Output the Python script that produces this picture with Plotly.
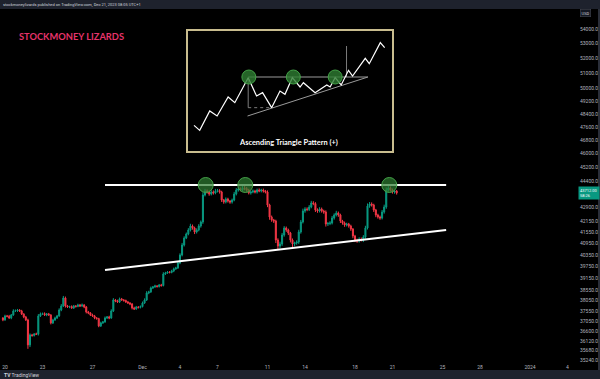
import math
import pandas as pd
import plotly.graph_objects as go

# ---------------- data ----------------
candle_start = "2023-11-19 20:00"
candle_step = "4h"
first_open = 37211
close = [
    37116, 37307, 37290, 37211, 37355, 37548, 37560, 37596, 37548, 37403,
    37259, 37116, 35941, 36406, 36380, 36453, 36440, 37307, 37403, 37420,
    37355, 37403, 37355, 36973, 37116, 37211, 37307, 37596, 37791, 38182,
    37791, 37742, 37760, 37693, 37791, 37770, 37840, 37791, 37840, 37742,
    37500, 37452, 37355, 37307, 37211, 37180, 36830, 36973, 37020, 37211,
    37259, 37211, 37548, 38084, 38035, 37986, 38133, 38084, 38060, 37986,
    37937, 37888, 37693, 37645, 37742, 37720, 37760, 37937, 38084, 38428,
    38478, 38677, 38727, 38777, 38750, 38827, 38800, 39381, 39431, 39482,
    39460, 39533, 39635, 39686, 39942, 40356, 40880, 41251, 41463, 41678,
    41893, 41785, 41570, 41678, 41893, 42110, 43600, 43825, 43769, 43656,
    43769, 43712, 43825, 43850, 43769, 43320, 43209, 43376, 43264, 43209,
    43320, 43656, 43882, 43938, 43882, 43995, 43960, 43882, 43712, 43769,
    43825, 43769, 43882, 43825, 43882, 43825, 43769, 43042, 42381, 42219,
    42164, 41144, 40827, 40933, 41410, 41785, 41678, 41516, 41144, 40933,
    40985, 41038, 41570, 42110, 42711, 42821, 42790, 42931, 43153, 43120,
    42766, 42711, 42821, 42711, 42656, 42001, 42030, 42055, 42327, 42491,
    42601, 42491, 42164, 42055, 41947, 42001, 41893, 41731, 41357, 41144,
    41091, 41197, 41144, 41304, 41785, 42987, 43097, 43042, 42766, 42491,
    42381, 42327, 42656, 42931, 43882, 43995, 43882, 43769, 43825, 43712,
]
wick_up = [
    40, 60, 50, 70, 45, 80, 60, 50, 40, 55,
    35, 50, 60, 70, 50, 40, 60, 90, 70, 50,
    60, 45, 50, 40, 55, 60, 50, 80, 90, 100,
    70, 50, 45, 60, 50, 40, 60, 50, 70, 40,
    45, 50, 40, 60, 50, 45, 40, 60, 50, 70,
    45, 60, 80, 90, 50, 60, 70, 50, 45, 40,
    50, 40, 45, 60, 50, 40, 55, 70, 80, 90,
    60, 70, 50, 60, 45, 50, 55, 90, 60, 50,
    45, 60, 70, 60, 80, 90, 110, 90, 80, 100,
    120, 80, 70, 90, 100, 80, 150, 120, 90, 80,
    100, 90, 120, 90, 80, 70, 60, 90, 70, 60,
    80, 120, 110, 100, 90, 120, 115, 90, 70, 80,
    90, 70, 80, 90, 70, 80, 60, 90, 70, 80,
    60, 70, 90, 120, 110, 100, 80, 70, 60, 80,
    70, 90, 120, 110, 130, 100, 90, 110, 120, 100,
    80, 90, 100, 80, 70, 90, 80, 100, 110, 90,
    120, 80, 70, 60, 80, 70, 60, 70, 50, 60,
    70, 90, 80, 100, 120, 140, 110, 90, 70, 60,
    70, 80, 110, 130, 140, 115, 90, 80, 70, 60,
]
wick_down = [
    60, 40, 50, 45, 60, 40, 50, 60, 45, 50,
    60, 50, 180, 100, 60, 50, 40, 60, 50, 45,
    50, 60, 40, 70, 50, 45, 50, 40, 60, 50,
    80, 50, 60, 45, 50, 60, 40, 50, 45, 60,
    70, 60, 50, 45, 60, 50, 60, 50, 45, 40,
    50, 60, 40, 50, 60, 45, 50, 40, 60, 50,
    45, 60, 70, 50, 40, 55, 50, 40, 45, 50,
    60, 45, 50, 40, 55, 50, 60, 45, 50, 40,
    50, 45, 60, 40, 50, 60, 70, 80, 60, 70,
    80, 90, 110, 80, 70, 90, 100, 80, 90, 100,
    80, 90, 70, 80, 90, 110, 100, 80, 90, 100,
    90, 70, 80, 90, 70, 80, 90, 100, 80, 90,
    70, 80, 90, 70, 80, 90, 80, 120, 150, 100,
    110, 160, 210, 120, 100, 90, 100, 110, 130, 160,
    120, 90, 100, 90, 80, 100, 90, 80, 70, 90,
    110, 100, 80, 90, 100, 140, 110, 90, 80, 90,
    80, 100, 110, 90, 100, 80, 90, 100, 120, 110,
    100, 90, 80, 110, 90, 80, 100, 90, 110, 120,
    90, 100, 80, 90, 100, 90, 80, 90, 100, 90,
]

date_ticks = ["2023-11-20", "2023-11-23", "2023-11-27", "2023-12-01", "2023-12-04",
              "2023-12-07", "2023-12-11", "2023-12-14", "2023-12-18", "2023-12-21",
              "2023-12-25", "2023-12-28", "2024-01-01", "2024-01-04"]
date_labels = ["20", "23", "27", "Dec", "4", "7", "11", "14", "18", "21",
               "25", "28", "2024", "4"]
price_ticks = [54000, 53000, 52000, 51000, 50000, 49200, 48400, 47600, 46800,
               46000, 45200, 44400, 42900, 42150, 41550, 40950, 40350, 39750,
               39150, 38550, 38050, 37550, 37050, 36600, 36120, 35680, 35240]
price_labels = [f"{v:.2f}" for v in price_ticks]

line_x = ["2023-11-28 00:00", "2023-12-25 07:00"]
resistance_y = [44166, 44166]
support_y = [39584, 41678]
touch_x = ["2023-12-06 01:20", "2023-12-09 05:20", "2023-12-20 17:50"]
touch_y = [44166, 44166, 44166]

# inset schematic (ascending triangle)
pattern_x = [28, 45, 75, 97, 130, 150, 190, 215, 233, 260, 285, 300, 322, 345,
             355, 390, 425, 435, 450, 468, 490, 502, 540, 552, 585, 598]
pattern_y = [293, 308, 250, 265, 208, 225, 150, 205, 195, 240, 190, 200, 150, 178,
             165, 195, 172, 178, 150, 172, 128, 145, 92, 108, 45, 60]
top_x, top_y = [190, 548], [148, 148]
base_x, base_y = [188, 548], [265, 148]
height_x, height_y = [190, 190], [150, 240]
dot_x, dot_y = [190, 258], [240, 240]
target_x, target_y = [484, 484], [55, 148]
peak_x, peak_y = [192, 325, 450], [148, 148, 148]

# ---------------- figure ----------------
W, H = 600, 379
L, R, T, B = 0, 23, 9, 17
PW, PH = W - L - R, H - T - B

def py(p):  # pixel row -> paper y
    return 1 - (p - T) / PH

def px(p):  # pixel column -> paper x
    return (p - L) / PW

times = pd.date_range(candle_start, periods=len(close), freq=candle_step)
opens = [first_open] + close[:-1]
highs = [max(o, c) + w for o, c, w in zip(opens, close, wick_up)]
lows = [min(o, c) - w for o, c, w in zip(opens, close, wick_down)]

UP, DN = "#089981", "#f23645"
fig = go.Figure()
fig.add_trace(go.Candlestick(
    x=times, open=opens, high=highs, low=lows, close=close,
    increasing=dict(line=dict(color=UP, width=1), fillcolor=UP),
    decreasing=dict(line=dict(color=DN, width=1), fillcolor=DN),
    whiskerwidth=0, showlegend=False, hoverinfo="skip"))
fig.add_trace(go.Scatter(x=line_x, y=resistance_y, mode="lines",
                         line=dict(color="white", width=2), showlegend=False))
fig.add_trace(go.Scatter(x=line_x, y=support_y, mode="lines",
                         line=dict(color="white", width=2), showlegend=False))
fig.add_trace(go.Scatter(x=touch_x, y=touch_y, mode="markers", showlegend=False,
                         marker=dict(size=15, color="rgba(46,125,50,0.7)",
                                     line=dict(color="#43a047", width=1))))

# inset
g = dict(xaxis="x2", yaxis="y2", mode="lines", showlegend=False, hoverinfo="skip")
fig.add_trace(go.Scatter(x=top_x, y=top_y, line=dict(color="#9a9a9a", width=1), **g))
fig.add_trace(go.Scatter(x=base_x, y=base_y, line=dict(color="#9a9a9a", width=1), **g))
fig.add_trace(go.Scatter(x=height_x, y=height_y, line=dict(color="#9a9a9a", width=0.8), **g))
fig.add_trace(go.Scatter(x=dot_x, y=dot_y, line=dict(color="#9a9a9a", width=0.8, dash="dot"), **g))
fig.add_trace(go.Scatter(x=target_x, y=target_y, line=dict(color="#9a9a9a", width=0.8), **g))
fig.add_trace(go.Scatter(x=pattern_x, y=pattern_y, line=dict(color="white", width=1.2), **g))
fig.add_trace(go.Scatter(x=peak_x, y=peak_y, xaxis="x2", yaxis="y2", mode="markers",
                         showlegend=False, hoverinfo="skip",
                         marker=dict(size=14, color="rgba(46,125,50,0.8)",
                                     line=dict(color="#43a047", width=1))))

ymin, ymax = 35158, 55410
tick_font = dict(family="Roboto", size=5, color="#b2b5be")
fig.update_layout(
    width=W, height=H, margin=dict(l=L, r=R, t=T, b=B),
    paper_bgcolor="black", plot_bgcolor="black", showlegend=False,
    xaxis=dict(type="date", range=["2023-11-19 14:24", "2024-01-04 18:14"],
               tickvals=date_ticks, ticktext=date_labels, tickfont=tick_font,
               showgrid=False, zeroline=False, showline=False, ticks="",
               rangeslider=dict(visible=False), ticklabelstandoff=1),
    yaxis=dict(type="log", side="right",
               range=[math.log10(ymin), math.log10(ymax)],
               tickvals=price_ticks, ticktext=price_labels, tickfont=tick_font,
               showgrid=False, zeroline=False, showline=False, ticks="",
               ticklabelstandoff=2),
    xaxis2=dict(domain=[px(188), px(392)], range=[10, 620], anchor="y2",
                showgrid=False, zeroline=False, showticklabels=False, ticks="",
                showline=True, mirror=True, linecolor="#c8bc8e", linewidth=1.5),
    yaxis2=dict(domain=[py(151), py(31)], range=[370, 10], anchor="x2",
                showgrid=False, zeroline=False, showticklabels=False, ticks="",
                showline=True, mirror=True, linecolor="#c8bc8e", linewidth=1.5),
)

BAR = "#1e222d"
fig.add_shape(type="rect", xref="paper", yref="paper", x0=-0.01, x1=px(W) + 0.01,
              y0=1, y1=py(-1), fillcolor=BAR, line_width=0, layer="above")
fig.add_shape(type="rect", xref="paper", yref="paper", x0=-0.01, x1=px(W) + 0.01,
              y0=py(380), y1=py(370), fillcolor=BAR, line_width=0, layer="above")
fig.add_shape(type="rect", xref="paper", yref="paper", x0=px(598), x1=px(W) + 0.01,
              y0=py(370), y1=1, fillcolor="#2a2e39", line_width=0, layer="above")

fig.add_annotation(xref="paper", yref="paper", x=px(1), y=py(4.5), xanchor="left",
                   yanchor="middle", showarrow=False,
                   text="stockmoneylizards published on TradingView.com, Dec 21, 2023 08:05 UTC+1",
                   font=dict(family="Roboto", size=4, color="#d1d4dc"))
fig.add_annotation(xref="paper", yref="paper", x=px(17), y=py(37), xanchor="left",
                   yanchor="middle", showarrow=False, text="<b>STOCKMONEY LIZARDS</b>",
                   font=dict(family="Lato", size=9.3, color="#e5336a"))
fig.add_annotation(xref="paper", yref="paper", x=px(2), y=py(375), xanchor="left",
                   yanchor="middle", showarrow=False, text="<b>TV</b> TradingView",
                   font=dict(family="Roboto", size=5, color="#d1d4dc"))
fig.add_annotation(xref="paper", yref="paper", x=px(580), y=py(13.5), xanchor="left",
                   yanchor="middle", showarrow=False, text="USD",
                   font=dict(family="Roboto", size=4, color="#d1d4dc"),
                   bordercolor="#434651", borderwidth=0.6, borderpad=1, bgcolor="#131722")
fig.add_annotation(xref="paper", yref="y", x=px(578), y=math.log10(close[-1]),
                   xanchor="left", yanchor="middle", showarrow=False,
                   text=f"{close[-1]:.2f}<br>58:26", align="left",
                   font=dict(family="Roboto", size=4, color="white"),
                   bgcolor=UP, borderpad=1)
fig.add_annotation(xref="x2", yref="y2", x=310, y=345, showarrow=False,
                   text="<b>Ascending Triangle Pattern (+)</b>",
                   font=dict(family="Lato", size=7.4, color="white"))

fig.write_html("out.html", config={"displayModeBar": False},
               post_script="document.body.style.margin='0';"
                           "document.body.style.overflow='hidden';")
